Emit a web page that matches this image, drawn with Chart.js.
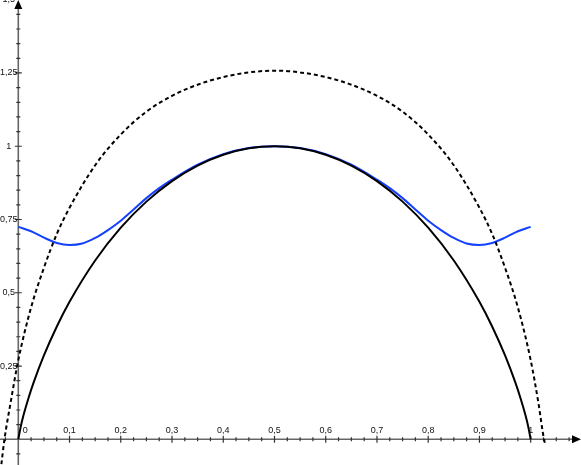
<!DOCTYPE html>
<html>
<head>
<meta charset="utf-8">
<script src="https://cdn.jsdelivr.net/npm/chart.js@4.4.1/dist/chart.umd.min.js"></script>
<style>
  body { margin: 0; background: #fff; }
  canvas { display: block; }
</style>
</head>
<body>
<canvas id="chart-0" width="581" height="465"></canvas>
<script>
// data (x values / y values per curve)
var entropyX = [0, 0.005, 0.01, 0.02, 0.03, 0.05, 0.075, 0.1, 0.15, 0.2, 0.25, 0.3, 0.35, 0.4, 0.45, 0.5,
                0.55, 0.6, 0.65, 0.7, 0.75, 0.8, 0.85, 0.9, 0.925, 0.95, 0.97, 0.98, 0.99, 0.995, 1];
var entropyY = [0, 0.045, 0.081, 0.141, 0.194, 0.286, 0.384, 0.469, 0.61, 0.722, 0.811, 0.881, 0.934, 0.971, 0.993, 1,
                0.993, 0.971, 0.934, 0.881, 0.811, 0.722, 0.61, 0.469, 0.384, 0.286, 0.194, 0.141, 0.081, 0.045, 0];

var boundX = [-0.033, -0.027, -0.015, 0, 0.025, 0.05, 0.075, 0.1, 0.15, 0.2, 0.25, 0.3, 0.35, 0.4, 0.45, 0.5,
              0.55, 0.6, 0.65, 0.7, 0.75, 0.8, 0.85, 0.9, 0.925, 0.95, 0.975, 1, 1.015, 1.026, 1.029];
var boundY = [-0.085, 0, 0.125, 0.27, 0.45, 0.585, 0.70, 0.79, 0.935, 1.04, 1.118, 1.172, 1.21, 1.236, 1.252, 1.258,
              1.252, 1.236, 1.21, 1.172, 1.118, 1.04, 0.935, 0.79, 0.70, 0.585, 0.45, 0.27, 0.125, 0, -0.02];

var blueX = [0, 0.025, 0.05, 0.075, 0.1, 0.125, 0.15, 0.175, 0.2, 0.225, 0.25, 0.275, 0.3, 0.35, 0.4, 0.45, 0.5,
             0.55, 0.6, 0.65, 0.7, 0.725, 0.75, 0.775, 0.8, 0.825, 0.85, 0.875, 0.9, 0.925, 0.95, 0.975, 1];
var blueY = [0.725, 0.71, 0.688, 0.670, 0.663, 0.668, 0.687, 0.714, 0.746, 0.784, 0.823, 0.857, 0.886, 0.937, 0.973, 0.994, 1,
             0.994, 0.973, 0.937, 0.886, 0.857, 0.823, 0.784, 0.746, 0.714, 0.687, 0.668, 0.663, 0.670, 0.688, 0.71, 0.725];

// tick labels (comma decimals like the original)
var xTickValues = [0, 0.1, 0.2, 0.3, 0.4, 0.5, 0.6, 0.7, 0.8, 0.9, 1];
var xTickLabels = ['0', '0,1', '0,2', '0,3', '0,4', '0,5', '0,6', '0,7', '0,8', '0,9', '1'];
var yTickValues = [0.25, 0.5, 0.75, 1, 1.25, 1.5];
var yTickLabels = ['0,25', '0,5', '0,75', '1', '1,25', '1,5'];

function toPoints(xs, ys) {
  return xs.map(function(x, i) { return { x: x, y: ys[i] }; });
}

// draws the cartesian axes through the origin, with arrows, ticks and labels
var axesPlugin = {
  id: 'axes',
  beforeDatasetsDraw: function(chart) {
    var ctx = chart.ctx;
    var sx = chart.scales.x, sy = chart.scales.y;
    var ox = sx.getPixelForValue(0), oy = sy.getPixelForValue(0);
    var W = chart.width, H = chart.height;
    var i, v, p, len;

    ctx.save();
    ctx.strokeStyle = '#666';
    ctx.lineWidth = 1.6;
    ctx.beginPath();
    ctx.moveTo(0, oy); ctx.lineTo(W - 4, oy);
    ctx.moveTo(ox, H); ctx.lineTo(ox, 4);
    ctx.stroke();

    // minor / major ticks
    ctx.lineWidth = 1.2;
    ctx.strokeStyle = '#333';
    ctx.beginPath();
    for (i = -1; i <= 43; i++) {
      v = i * 0.025;
      if (i === 0) continue;
      p = sx.getPixelForValue(v);
      if (p > W - 8) break;
      len = (i % 4 === 0) ? 3.5 : 2;
      ctx.moveTo(p, oy - len); ctx.lineTo(p, oy + len);
    }
    for (i = -1; i <= 30; i++) {
      v = i * 0.05;
      if (i === 0) continue;
      p = sy.getPixelForValue(v);
      if (p < 6) break;
      len = (i % 5 === 0) ? 3.5 : 2;
      ctx.moveTo(ox - len, p); ctx.lineTo(ox + len, p);
    }
    ctx.stroke();

    // arrow heads
    ctx.fillStyle = '#000';
    ctx.beginPath();
    ctx.moveTo(W, oy); ctx.lineTo(W - 9, oy - 4); ctx.lineTo(W - 9, oy + 4);
    ctx.closePath(); ctx.fill();
    ctx.beginPath();
    ctx.moveTo(ox, 0); ctx.lineTo(ox - 4, 9); ctx.lineTo(ox + 4, 9);
    ctx.closePath(); ctx.fill();

    // labels
    ctx.fillStyle = '#111';
    ctx.font = '9px "Liberation Sans", Arial, sans-serif';
    ctx.textAlign = 'center';
    ctx.textBaseline = 'alphabetic';
    xTickValues.forEach(function(val, k) {
      var px = sx.getPixelForValue(val);
      if (val === 0) px += 7;
      ctx.fillText(xTickLabels[k], px, oy - 6);
    });
    ctx.textBaseline = 'middle';
    yTickValues.forEach(function(val, k) {
      ctx.fillText(yTickLabels[k], ox - 9.5, sy.getPixelForValue(val));
    });
    ctx.restore();
  }
};

var chart0 = new Chart(document.getElementById('chart-0'), {
  type: 'scatter',
  data: {
    datasets: [
      { data: toPoints(boundX, boundY), showLine: true, borderColor: '#000', borderWidth: 2,
        borderDash: [4, 3], pointRadius: 0, cubicInterpolationMode: 'monotone' },
      { data: toPoints(entropyX, entropyY), showLine: true, borderColor: '#000', borderWidth: 2,
        pointRadius: 0, cubicInterpolationMode: 'monotone' },
      { data: toPoints(blueX, blueY), showLine: true, borderColor: 'rgb(20,64,255)', borderWidth: 2,
        pointRadius: 0, cubicInterpolationMode: 'monotone' }
    ]
  },
  options: {
    responsive: false,
    animation: false,
    devicePixelRatio: 1,
    layout: { padding: 0 },
    plugins: { legend: { display: false }, tooltip: { enabled: false } },
    scales: {
      x: { type: 'linear', min: -0.0357, max: 1.0982, display: false },
      y: { type: 'linear', min: -0.0877, max: 1.499, display: false }
    }
  },
  plugins: [axesPlugin]
});
</script>
</body>
</html>
